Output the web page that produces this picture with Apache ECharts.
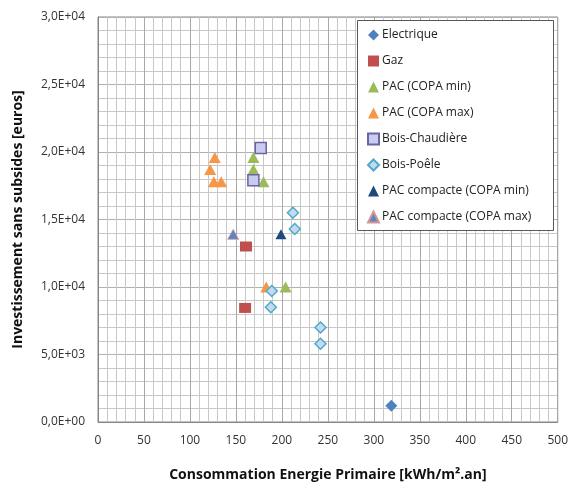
<!DOCTYPE html>
<html>
<head>
<meta charset="utf-8">
<script src="https://cdn.jsdelivr.net/npm/echarts@6/dist/echarts.min.js"></script>
<style>
  html, body { margin: 0; padding: 0; background: #fff; }
  #chart { width: 571px; height: 487px; }
</style>
</head>
<body>
<div id="chart"></div>
<script>
// Primary energy use [kWh/m².an] vs. investment without subsidies [euros]
const seriesNames = [
  'Electrique', 'Gaz', 'PAC (COPA min)', 'PAC (COPA max)',
  'Bois-Chaudière', 'Bois-Poêle', 'PAC compacte (COPA min)', 'PAC compacte (COPA max)'
];

const electriqueX = [319];
const electriqueY = [1200];

const gazX = [161, 160];
const gazY = [13000, 8450];

const pacMinX = [169, 169, 180, 204];
const pacMinY = [19600, 18700, 17800, 10000];

const pacMaxX = [127, 122, 126, 134, 183];
const pacMaxY = [19600, 18700, 17800, 17800, 10000];

const chaudiereX = [177, 169];
const chaudiereY = [20300, 17900];

const poeleX = [212, 214, 189, 188, 242, 242];
const poeleY = [15500, 14300, 9700, 8500, 7000, 5800];

const compacteMinX = [199];
const compacteMinY = [13900];

const compacteMaxX = [147];
const compacteMaxY = [13900];

const xTicks = { min: 0, max: 500, interval: 50 };
const yTicks = { min: 0, max: 30000, interval: 5000 };

const pairs = (xs, ys) => xs.map((x, i) => [x, ys[i]]);

// "3,0E+04" style scientific labels
function sciLabel(v) {
  if (v === 0) return '0,0E+00';
  const e = Math.floor(Math.log10(Math.abs(v)) + 1e-9);
  const m = v / Math.pow(10, e);
  const sign = e < 0 ? '-' : '+';
  const ea = Math.abs(e);
  return m.toFixed(1).replace('.', ',') + 'E' + sign + (ea < 10 ? '0' + ea : ea);
}

const FONT = '"Open Sans", Lato, sans-serif';

const styles = [
  { symbol: 'diamond', size: [12, 12], color: '#4F81BD', border: '#4F81BD', bw: 0 },
  { symbol: 'rect', size: [12, 10], color: '#C0504D', border: '#C0504D', bw: 0 },
  { symbol: 'triangle', size: [12, 11], color: '#9BBB59', border: '#9BBB59', bw: 0 },
  { symbol: 'triangle', size: [12, 11], color: '#F79646', border: '#F79646', bw: 0 },
  { symbol: 'rect', size: [11, 11], color: '#C9CCEF', border: '#6B63A8', bw: 1.5 },
  { symbol: 'diamond', size: [11, 11], color: '#C6D9F1', border: '#4BACC6', bw: 1.5 },
  { symbol: 'triangle', size: [11, 10], color: '#1F497D', border: '#1F497D', bw: 0 },
  { symbol: 'triangle', size: [11, 10], color: '#5B87C5', border: '#D99594', bw: 0.8 }
];

const dataSets = [
  pairs(electriqueX, electriqueY),
  pairs(gazX, gazY),
  pairs(pacMinX, pacMinY),
  pairs(pacMaxX, pacMaxY),
  pairs(chaudiereX, chaudiereY),
  pairs(poeleX, poeleY),
  pairs(compacteMinX, compacteMinY),
  pairs(compacteMaxX, compacteMaxY)
];

const series = seriesNames.map((name, i) => ({
  name: name,
  type: 'scatter',
  symbol: styles[i].symbol,
  symbolSize: styles[i].size,
  data: dataSets[i],
  itemStyle: {
    color: styles[i].color,
    borderColor: styles[i].border,
    borderWidth: styles[i].bw,
    opacity: 1
  },
  emphasis: { disabled: true },
  z: 3
}));

const chart = echarts.init(document.getElementById('chart'), null, { renderer: 'canvas' });

chart.setOption({
  animation: false,
  backgroundColor: '#fff',
  grid: {
    left: 98, right: 10, top: 17, bottom: 65,
    show: true, borderColor: '#868686', borderWidth: 1, backgroundColor: 'transparent'
  },
  xAxis: {
    type: 'value',
    min: xTicks.min, max: xTicks.max, interval: xTicks.interval,
    name: 'Consommation Energie Primaire [kWh/m².an]',
    nameLocation: 'middle',
    nameGap: 46,
    nameTextStyle: { fontFamily: FONT, fontSize: 14, fontWeight: 'bold', color: '#111' },
    axisLine: { show: true, lineStyle: { color: '#868686', width: 1 } },
    axisTick: { show: false },
    axisLabel: { fontFamily: FONT, fontSize: 12, color: '#333', margin: 13 },
    splitLine: { show: true, lineStyle: { color: '#a8a8a8', width: 1 } },
    minorTick: { show: false, splitNumber: 5 },
    minorSplitLine: { show: true, lineStyle: { color: '#c8c8c8', width: 1 } }
  },
  yAxis: {
    type: 'value',
    min: yTicks.min, max: yTicks.max, interval: yTicks.interval,
    name: 'Investissement sans subsides [euros]',
    nameLocation: 'middle',
    nameGap: 73,
    nameTextStyle: { fontFamily: FONT, fontSize: 14, fontWeight: 'bold', color: '#111' },
    axisLine: { show: true, lineStyle: { color: '#868686', width: 1 } },
    axisTick: { show: false },
    axisLabel: { fontFamily: FONT, fontSize: 12, color: '#333', margin: 13, formatter: sciLabel },
    splitLine: { show: true, lineStyle: { color: '#b0b0b0', width: 1 } },
    minorTick: { show: false, splitNumber: 5 },
    minorSplitLine: { show: true, lineStyle: { color: '#c8c8c8', width: 1 } }
  },
  graphic: [{
    type: 'rect',
    shape: { x: 357.5, y: 20.5, width: 196, height: 210 },
    style: { fill: '#fff', stroke: '#595959', lineWidth: 1 },
    z: 10
  }],
  legend: {
    orient: 'vertical',
    left: 367, top: 28,
    padding: 0,
    itemGap: 12,
    itemWidth: 11,
    itemHeight: 11,
    z: 20,
    selectedMode: false,
    textStyle: { fontFamily: FONT, fontSize: 12, color: '#222', lineHeight: 14, padding: [0, 0, 0, -2] },
    data: seriesNames
  },
  series: series
});
</script>
</body>
</html>
